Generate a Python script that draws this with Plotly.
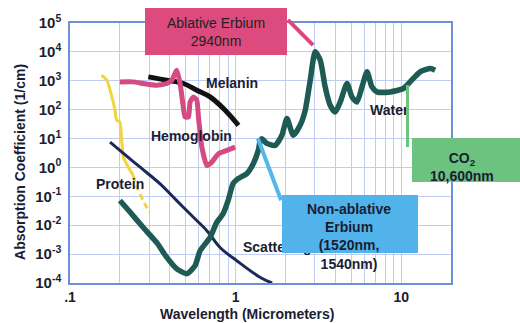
import plotly.graph_objects as go

# ---- data (wavelength in micrometers, absorption coefficient in 1/cm) ----
water_wl = [0.200, 0.231, 0.276, 0.334, 0.384, 0.441, 0.507, 0.569, 0.610, 0.701, 0.769,
            0.84, 0.90, 0.966, 1.035, 1.17, 1.28, 1.37, 1.41, 1.44, 1.54, 1.73, 1.90, 2.04,
            2.23, 2.45, 2.63, 2.82, 3.02, 3.24, 3.47, 3.72, 3.99, 4.28, 4.70, 5.04, 5.40,
            5.79, 6.21, 6.65, 7.13, 8.58, 10.3, 11.3, 13.0, 15.0, 16.0]
water_abs = [0.0715, 0.028, 0.0085, 0.0025, 7.7e-4, 3.1e-4, 2.1e-4, 4.0e-4, 1.3e-3, 3.8e-3,
             0.0126, 0.025, 0.071, 0.28, 0.41, 0.62, 1.38, 3.9, 8.7, 9.9, 6.8, 5.8, 12.9, 49,
             12.9, 28.7, 95, 1050, 10070, 5190, 614, 142, 83, 185, 805, 276, 185, 614, 2040,
             614, 412, 412, 541, 916, 2040, 2670, 2330]

hemo_wl = [0.200, 0.241, 0.277, 0.334, 0.384, 0.412, 0.441, 0.462, 0.480, 0.495, 0.519,
           0.531, 0.556, 0.583, 0.596, 0.625, 0.670, 0.718, 0.787, 0.885, 0.993]
hemo_abs = [916, 916, 805, 703, 805, 1050, 2330, 805, 163, 56, 56, 185, 276, 212, 56,
            5.07, 1.17, 1.53, 3.0, 3.9, 5.07]

melanin_wl = [0.297, 0.384, 0.484, 0.583, 0.701, 0.844, 1.04]
melanin_abs = [1365, 1050, 805, 472, 276, 109, 28.7]

protein_wl = [0.155, 0.167, 0.179, 0.187, 0.191, 0.200, 0.205, 0.210, 0.225, 0.241]
protein_abs = [1563, 1050, 276, 95, 43, 37, 8.7, 2.3, 1.02, 0.53]
protein_tail_wl = [0.241, 0.253, 0.277, 0.301]
protein_tail_abs = [0.53, 0.21, 0.071, 0.028]

scatter_wl = [0.1745, 0.200, 0.265, 0.350, 0.441, 0.556, 0.670, 0.805, 1.016, 1.41, 1.66]
scatter_abs = [7.55, 3.9, 1.02, 0.27, 0.071, 0.0188, 0.0065, 0.0017, 5.9e-4, 1.55e-4, 1.0e-4]

x_tick_vals = [0.1, 0.2, 0.3, 0.4, 0.5, 0.6, 0.7, 0.8, 0.9,
               1, 2, 3, 4, 5, 6, 7, 8, 9, 10, 20]
x_tick_labels = {0.1: ".1", 1: "1", 10: "10"}
y_exponents = [-4, -3, -2, -1, 0, 1, 2, 3, 4, 5]

# ---- styling ----
FONT = "Liberation Sans, Arial, sans-serif"
INK = "#1b1d33"
GRID = "#bfcdf2"
FRAME = "#6f8ed8"

fig = go.Figure()

fig.add_trace(go.Scatter(x=melanin_wl, y=melanin_abs, mode="lines",
                         line=dict(color="#121212", width=5, shape="spline")))
fig.add_trace(go.Scatter(x=hemo_wl, y=hemo_abs, mode="lines",
                         line=dict(color="#d44a82", width=5, shape="spline", smoothing=0.5)))
fig.add_trace(go.Scatter(x=protein_wl, y=protein_abs, mode="lines",
                         line=dict(color="#f2d43e", width=3, shape="spline", smoothing=0.5)))
fig.add_trace(go.Scatter(x=protein_tail_wl, y=protein_tail_abs, mode="lines",
                         line=dict(color="#f2d43e", width=3, shape="spline", dash="6px,4px")))
fig.add_trace(go.Scatter(x=scatter_wl, y=scatter_abs, mode="lines",
                         line=dict(color="#1c2959", width=3, shape="spline")))
fig.add_trace(go.Scatter(x=water_wl, y=water_abs, mode="lines",
                         line=dict(color="#1f5b55", width=5.5, shape="spline", smoothing=0.6)))

fig.update_xaxes(
    type="log", range=[-1, 1.3],
    tickmode="array", tickvals=x_tick_vals,
    ticktext=[x_tick_labels.get(v, "") for v in x_tick_vals],
    showgrid=True, gridcolor=GRID, gridwidth=1,
    showline=True, linecolor=FRAME, linewidth=1.5, mirror=True,
    ticks="", zeroline=False,
    tickfont=dict(family=FONT, size=14, color=INK, weight="bold"),
)
fig.update_yaxes(
    type="log", range=[-4, 5],
    tickmode="array", tickvals=[10.0 ** e for e in y_exponents],
    ticktext=["10<sup>%d</sup>" % e for e in y_exponents],
    showgrid=True, gridcolor=GRID, gridwidth=1,
    showline=True, linecolor=FRAME, linewidth=1.5, mirror=True,
    ticks="", zeroline=False, ticklabelstandoff=4,
    tickfont=dict(family=FONT, size=15, color=INK, weight="bold"),
)

# connector lines (paper coordinates)
fig.add_shape(type="line", xref="paper", yref="paper", x0=0.572, y0=1.012, x1=0.638, y1=0.915,
              line=dict(color="#d84a7f", width=4), layer="above")
fig.add_shape(type="line", xref="paper", yref="paper", x0=0.493, y0=0.557, x1=0.554, y1=0.318,
              line=dict(color="#55b6ee", width=4), layer="above")

ann = []

def label(text, x, y, xanchor="center", size=14, bold=True, color=INK):
    ann.append(dict(text=text, x=x, y=y, xref="paper", yref="paper", showarrow=False,
                    xanchor=xanchor, yanchor="middle",
                    font=dict(family=FONT, size=size, color=color,
                              weight="bold" if bold else "normal")))

def box(x0, x1, y0, y1, color):
    ann.append(dict(text=" ", x=x0, y=y1, xref="paper", yref="paper", showarrow=False,
                    xanchor="left", yanchor="top",
                    width=(x1 - x0) * 381, height=(y1 - y0) * 259.7,
                    bgcolor=color, borderpad=0, borderwidth=0))

label("Melanin", 0.425, 0.769)
label("Hemoglobin", 0.318, 0.565)
label("Protein", 0.130, 0.380)
label("Water", 0.781, 0.665, xanchor="left")
label("Scattering", 0.448, 0.139, xanchor="left")

# green connector drawn over the "Water" label
box(0.882, 0.890, 0.524, 0.761, "#6cc27f")

box(0.197, 0.570, 0.877, 1.058, "#dc4a7e")
label("Ablative Erbium<br>2940nm", 0.383, 0.967, size=14, bold=False, color="#222222")

box(0.897, 1.181, 0.385, 0.556, "#6cc27f")
label("CO<sub>2</sub><br>10,600nm", 1.028, 0.447, size=14)

box(0.556, 0.912, 0.116, 0.340, "#52b3ea")
label("Non-ablative<br>Erbium<br>(1520nm,<br>1540nm)", 0.732, 0.180, size=14)

# axis titles
label("Wavelength (Micrometers)", 0.466, -0.118, size=14)
ann.append(dict(text="Absorption Coefficient (1/cm)", x=-0.133, y=0.467, xref="paper",
                yref="paper", showarrow=False, textangle=-90, xanchor="center",
                yanchor="middle", font=dict(family=FONT, size=14, color=INK, weight="bold")))

fig.update_layout(
    width=520, height=323,
    margin=dict(l=70, r=69, t=23, b=40),
    paper_bgcolor="white", plot_bgcolor="white",
    showlegend=False,
    annotations=ann,
)

fig.write_html("out.html")
